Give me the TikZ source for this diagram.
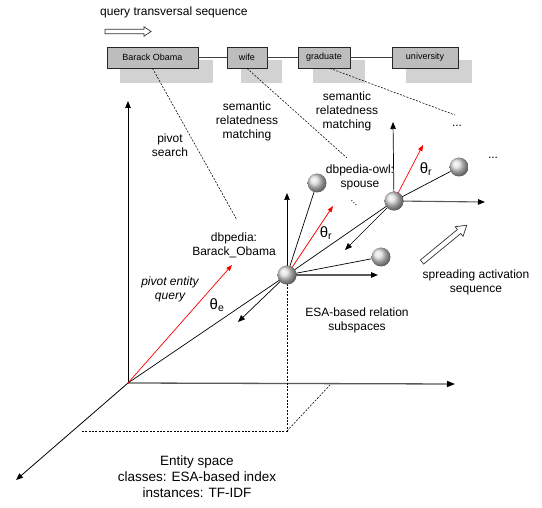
\documentclass[tikz,border=0pt]{standalone}
\usepackage{fontspec}
\setmainfont{Liberation Sans}
\usetikzlibrary{arrows.meta}
\begin{document}
\begin{tikzpicture}[x=1pt,y=-1pt,
  lbl/.style={font=\fontsize{12}{14}\selectfont, align=center, inner sep=0pt},
  biglbl/.style={font=\fontsize{13.5}{16}\selectfont, align=center, inner sep=0pt},
  thlbl/.style={font=\fontsize{15}{16}\selectfont, inner sep=0pt},
  qbox/.style={draw=black!85, fill=gray!52, line width=0.7pt, inner sep=0pt,
    minimum height=21pt, font=\fontsize{9}{10}\selectfont},
  shadowbox/.style={fill=gray!35},
  link/.style={draw=black!75, line width=0.7pt},
  guide/.style={line width=0.55pt, dash pattern=on 2pt off 1.4pt},
  tip/.style={-{Triangle[length=7pt,width=5.5pt]}},
  axis/.style={line width=0.8pt, tip},
  haxis/.style={line width=1.3pt, draw=black!65, -{Triangle[length=8pt,width=6pt,color=black]}},
  vec/.style={line width=0.7pt},
  grayvec/.style={line width=1.1pt, draw=black!65, -{Triangle[length=7pt,width=5.5pt,color=black]}},
  redvec/.style={line width=0.7pt, red, -{Triangle[length=6pt,width=4.5pt]}},
  ball/.style={circle, minimum size=19pt, inner sep=0pt, shading=ball, ball color=gray!28},
  hollow/.style={draw=black!80, fill=white, line width=0.7pt, line join=miter}]

\useasboundingbox (0,0) rectangle (542,508);

% --- query transversal sequence ---
\node[lbl, anchor=west] (title) at (100,12) {query transversal sequence};
\draw[hollow] (105,29.3) -- (144,29.3) -- (144,26.8) -- (151,31.5) -- (144,36.2)
  -- (144,33.7) -- (105,33.7) -- cycle;

\fill[shadowbox] (120,60) rectangle (213,83);
\fill[shadowbox] (241,60) rectangle (282,83);
\fill[shadowbox] (313,60) rectangle (365,83);
\fill[shadowbox] (406,60) rectangle (472,83);

\node[qbox, minimum width=91pt] (bo) at (152.5,57.5) {Barack Obama};
\node[qbox, minimum width=40pt] (wf) at (247,57.5) {wife};
\node[qbox, minimum width=52pt] (gr) at (324,57.5) {graduate};
\node[qbox, minimum width=66pt] (un) at (425,57.5) {university};
\draw[link] (bo) -- (wf);
\draw[link] (wf) -- (gr);
\draw[link] (gr) -- (un);

% --- entity space axes ---
\coordinate (O) at (128,383);
\coordinate (zup) at (128,101);
\coordinate (xr) at (455,384);
\coordinate (yd) at (16,480);
\draw[axis] (O) -- (zup);
\draw[haxis] (O) -- (xr);
\draw[axis] (O) -- (yd);

% projection of the first subspace origin
\coordinate (pb) at (287,431);
\coordinate (pl) at (81,431);
\coordinate (pr) at (330,385);
\draw[guide] (287,284) -- (pb) -- (pl);
\draw[guide] (pb) -- (pr);

% --- relation subspaces ---
\node[ball] (s1) at (287,275) {};
\node[ball] (s4) at (394,201) {};

\coordinate (q) at (232,265);
\coordinate (s1up) at (287,193);
\coordinate (s1rt) at (378,275);
\coordinate (s1dl) at (238,322);
\coordinate (s1red) at (333,206);
\coordinate (s4up) at (393,122);
\coordinate (s4rt) at (485,202);
\coordinate (s4dl) at (345,250);
\coordinate (s4red) at (423,145);

\draw[vec] (O) -- (s1.center);
\draw[redvec] (O) -- (q);

\draw[vec, tip] (s1.center) -- (s1up);
\draw[grayvec] (s1.center) -- (s1rt);
\draw[vec, tip] (s1.center) -- (s1dl);
\draw[redvec] (s1.center) -- (s1red);
\draw[vec] (s1.center) -- (s4.center);

\draw[vec, tip] (s4.center) -- (s4up);
\draw[grayvec] (s4.center) -- (s4rt);
\draw[vec, tip] (s4.center) -- (s4dl);
\draw[redvec] (s4.center) -- (s4red);

\node[ball] (s2) at (317,183) {};
\node[ball] (s3) at (381,257) {};
\node[ball] (s5) at (459,167) {};
\draw[vec] (s1.center) -- (s2);
\draw[vec] (s1.center) -- (s3);
\draw[vec] (s4.center) -- (s5);

% redraw subspace origins on top
\node[ball] at (s1) {};
\node[ball] at (s4) {};

% --- labels ---
\node[lbl] (piv) at (170,145) {pivot\\search};
\node[lbl] (sm1) at (247,121) {semantic\\relatedness\\matching};
\node[lbl] (sm2) at (347,111) {semantic\\relatedness\\matching};
\node[lbl] (spo) at (360,177) {dbpedia-owl:\\spouse};
\node[lbl] (dbo) at (234,245) {dbpedia:\\Barack\_Obama};
\node[lbl, font=\fontsize{12}{14}\selectfont\itshape] (peq) at (170,289) {pivot entity\\query};
\node[lbl] (esa) at (357,320) {ESA-based relation\\subspaces};
\node[lbl] (spr) at (476,282) {spreading activation\\sequence};
\node[biglbl] (ent) at (197,477) {Entity space\\classes: ESA-based index\\instances: TF-IDF};

\node[thlbl] (the) at (217,305) {θ\textsubscript{e}};
\node[thlbl] (thr1) at (326,233) {θ\textsubscript{r}};
\node[thlbl] (thr2) at (426,169) {θ\textsubscript{r}};

\node[lbl] (dd1) at (457,126) {...};
\node[lbl] (dd2) at (493,158) {...};
\node[lbl, font=\fontsize{10}{11}\selectfont, rotate=-45] (dd3) at (354,203) {...};

% mapping guides from the query terms
\coordinate (g1) at (237,220);
\coordinate (g2) at (347,158);
\coordinate (g3) at (455,115);
\draw[guide] (bo.south) -- (g1);
\draw[guide] (wf.south) -- (g2);
\draw[guide] ([xshift=6pt]gr.south) -- (g3);

% spreading direction
\begin{scope}[shift={(422,262)}, rotate=39.4]
  \draw[hollow] (0,-2.6) -- (48,-2.6) -- (48,-6.2) -- (58,0) -- (48,6.2)
    -- (48,2.6) -- (0,2.6) -- cycle;
\end{scope}
\end{tikzpicture}
\end{document}
